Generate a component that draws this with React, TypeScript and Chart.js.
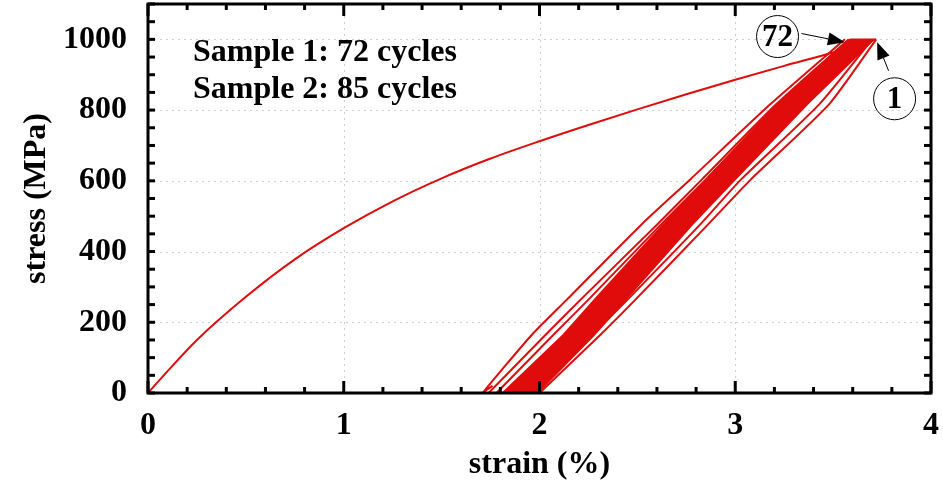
import React, { useEffect, useRef } from 'react';
import { Chart, registerables } from 'chart.js';

Chart.register(...registerables);

// Monotonic loading curve (first cycle)
const loadStrain = [0, 0.1, 0.25, 0.5, 0.75, 1.0, 1.25, 1.5, 1.75, 2.0, 2.25, 2.5, 2.75, 3.0, 3.25, 3.5, 3.72];
const loadStress = [0, 62, 150, 272, 378, 466, 542, 607, 663, 712, 758, 802, 845, 886, 925, 963, 1000];

// Cycle 1: unloading and reloading branches
const firstUnloadStrain = [3.72, 3.48, 3.08, 2.86, 2.49, 2.31, 2.00];
const firstUnloadStress = [1000, 817, 604, 476, 264, 164, 0];
const firstReloadStrain = [1.97, 2.27, 2.45, 2.82, 3.03, 3.43, 3.70];
const firstReloadStress = [0, 164, 264, 476, 604, 817, 1000];

// Dense band of intermediate cycles (outline: left edge up, right edge down)
const bandStrain = [1.81, 2.12, 2.28, 2.63, 2.85, 3.22, 3.59, 3.71, 3.37, 3.00, 2.78, 2.44, 2.28, 1.99, 1.81];
const bandStress = [0, 164, 264, 476, 604, 817, 1000, 1000, 817, 604, 476, 264, 164, 0, 0];

// Late cycles on the left side
const lateReloadStrain = [1.74, 2.03, 2.21, 2.60, 2.83, 3.21, 3.58];
const lateReloadStress = [0, 164, 264, 476, 604, 817, 1000];
const lateUnloadStrain = [3.59, 3.22, 2.85, 2.62, 2.25, 2.07, 1.78];
const lateUnloadStress = [1000, 817, 604, 476, 264, 164, 0];
// Last cycle (72)
const lastStrain = [3.56, 3.18, 2.77, 2.52, 2.14, 1.96, 1.71, 1.76];
const lastStress = [1000, 817, 604, 476, 264, 164, 0, 20];

const xTickLabels = ['0', '1', '2', '3', '4'];
const yTickLabels = ['0', '200', '400', '600', '800', '1000'];
const xGrid = [1, 2, 3];
const yGrid = [200, 400, 600, 800, 1000];

const noteLines = ['Sample 1: 72 cycles', 'Sample 2: 85 cycles'];
const firstCycleLabel = '1';
const lastCycleLabel = '72';

const RED = '#e00b0b';
const FONT = '"Liberation Serif", "Times New Roman", serif';

const pts = (xs: number[], ys: number[]) => xs.map((x, i) => ({ x, y: ys[i] }));

const framePlugin = {
  id: 'frame',
  beforeDatasetsDraw(chart: any) {
    const { ctx, chartArea: a, scales } = chart;
    const xs = scales.x, ys = scales.y;
    ctx.save();
    ctx.strokeStyle = '#cfcfcf';
    ctx.lineWidth = 1;
    ctx.setLineDash([2, 4]);
    xGrid.forEach(v => {
      const p = Math.round(xs.getPixelForValue(v)) + 0.5;
      ctx.beginPath(); ctx.moveTo(p, a.top); ctx.lineTo(p, a.bottom); ctx.stroke();
    });
    yGrid.forEach(v => {
      const p = Math.round(ys.getPixelForValue(v)) + 0.5;
      ctx.beginPath(); ctx.moveTo(a.left, p); ctx.lineTo(a.right, p); ctx.stroke();
    });
    ctx.restore();
  },
  afterDatasetsDraw(chart: any) {
    const { ctx, chartArea: a, scales } = chart;
    const xs = scales.x, ys = scales.y;
    ctx.save();
    ctx.strokeStyle = '#000';
    ctx.lineWidth = 3;
    ctx.setLineDash([]);
    for (let i = 0; i <= 20; i++) {
      const v = i * 0.2;
      const p = xs.getPixelForValue(v);
      const len = i % 5 === 0 ? 12 : 6;
      ctx.beginPath(); ctx.moveTo(p, a.bottom); ctx.lineTo(p, a.bottom - len); ctx.stroke();
      ctx.beginPath(); ctx.moveTo(p, a.top); ctx.lineTo(p, a.top + len); ctx.stroke();
    }
    for (let i = 0; i <= 22; i++) {
      const v = i * 50;
      const p = ys.getPixelForValue(v);
      const len = 7;
      ctx.beginPath(); ctx.moveTo(a.left, p); ctx.lineTo(a.left + len, p); ctx.stroke();
      ctx.beginPath(); ctx.moveTo(a.right, p); ctx.lineTo(a.right - len, p); ctx.stroke();
    }
    ctx.strokeRect(a.left, a.top, a.right - a.left, a.bottom - a.top);
    ctx.restore();
  },
  afterDraw(chart: any) {
    const { ctx, chartArea: a, scales } = chart;
    const xs = scales.x, ys = scales.y;
    ctx.save();
    ctx.fillStyle = '#000';
    ctx.font = `bold 32px ${FONT}`;
    ctx.textBaseline = 'alphabetic';
    ctx.textAlign = 'left';
    ctx.fillText(noteLines[0], a.left + 45, a.top + 57);
    ctx.fillText(noteLines[1], a.left + 45, a.top + 94);

    const arrow = (x1: number, y1: number, x2: number, y2: number) => {
      const ang = Math.atan2(y2 - y1, x2 - x1);
      const hl = 17, hw = 6.5;
      ctx.strokeStyle = '#000';
      ctx.lineWidth = 1;
      ctx.beginPath();
      ctx.moveTo(x1, y1);
      ctx.lineTo(x2 - hl * Math.cos(ang), y2 - hl * Math.sin(ang));
      ctx.stroke();
      ctx.beginPath();
      ctx.moveTo(x2, y2);
      ctx.lineTo(x2 - hl * Math.cos(ang) + hw * Math.sin(ang), y2 - hl * Math.sin(ang) - hw * Math.cos(ang));
      ctx.lineTo(x2 - hl * Math.cos(ang) - hw * Math.sin(ang), y2 - hl * Math.sin(ang) + hw * Math.cos(ang));
      ctx.closePath();
      ctx.fill();
    };
    const circleLabel = (cx: number, cy: number, text: string) => {
      ctx.strokeStyle = '#000';
      ctx.lineWidth = 1;
      ctx.beginPath();
      ctx.arc(cx, cy, 21, 0, Math.PI * 2);
      ctx.stroke();
      ctx.font = `bold 31px ${FONT}`;
      ctx.textAlign = 'center';
      ctx.textBaseline = 'middle';
      ctx.fillText(text, cx, cy + 1);
    };
    const c72x = xs.getPixelForValue(3.216), c72y = ys.getPixelForValue(1008);
    circleLabel(c72x, c72y, lastCycleLabel);
    arrow(c72x + 24, c72y - 3, xs.getPixelForValue(3.56), ys.getPixelForValue(992));
    const c1x = xs.getPixelForValue(3.814), c1y = ys.getPixelForValue(832);
    circleLabel(c1x, c1y, firstCycleLabel);
    arrow(c1x - 6, c1y - 28, xs.getPixelForValue(3.725), ys.getPixelForValue(992));
    ctx.restore();
  },
};

export default function App() {
  const ref = useRef<HTMLCanvasElement>(null);
  useEffect(() => {
    if (!ref.current) return;
    Chart.defaults.font.family = FONT;
    const lineDs = (data: any[]) => ({
      data,
      borderColor: RED,
      borderWidth: 2,
      pointRadius: 0,
      fill: false,
      tension: 0.2,
    });
    const chart = new Chart(ref.current, {
      type: 'line',
      data: {
        datasets: [
          {
            data: pts(bandStrain, bandStress),
            borderColor: RED,
            backgroundColor: RED,
            borderWidth: 1.5,
            pointRadius: 0,
            fill: 'shape',
            tension: 0,
          } as any,
          lineDs(pts(firstUnloadStrain, firstUnloadStress)),
          lineDs(pts(firstReloadStrain, firstReloadStress)),
          lineDs(pts(lateReloadStrain, lateReloadStress)),
          lineDs(pts(lateUnloadStrain, lateUnloadStress)),
          lineDs(pts(lastStrain, lastStress)),
          { ...lineDs(pts(loadStrain, loadStress)), cubicInterpolationMode: 'monotone' },
        ],
      },
      options: {
        animation: false,
        responsive: false,
        parsing: false as any,
        layout: { padding: { top: 4, right: 12, left: 0, bottom: 0 } },
        plugins: { legend: { display: false }, tooltip: { enabled: false } },
        scales: {
          x: {
            type: 'linear',
            min: 0,
            max: 4,
            grid: { display: false, drawTicks: false },
            border: { display: false },
            ticks: {
              stepSize: 1,
              autoSkip: false,
              maxRotation: 0,
              color: '#000',
              padding: 14,
              font: { size: 32, weight: 'bold', family: FONT },
              callback: (v: any) => xTickLabels[Number(v)] ?? '',
            },
            title: {
              display: true,
              text: 'strain (%)',
              color: '#000',
              font: { size: 32, weight: 'bold', family: FONT },
              padding: { top: 0, bottom: 6 },
            },
            afterFit: (s: any) => { s.height = 97; s.paddingLeft = 0; s.paddingRight = 0; },
          },
          y: {
            type: 'linear',
            min: 0,
            max: 1100,
            grid: { display: false, drawTicks: false },
            border: { display: false },
            ticks: {
              stepSize: 100,
              autoSkip: false,
              color: '#000',
              padding: 21,
              font: { size: 32, weight: 'bold', family: FONT },
              callback: (v: any) => (yTickLabels.includes(String(v)) ? String(v) : ''),
            },
            title: {
              display: true,
              text: 'stress (MPa)',
              color: '#000',
              font: { size: 32, weight: 'bold', family: FONT },
              padding: { top: 18, bottom: 0 },
            },
            afterFit: (s: any) => { s.width = 148; s.paddingTop = 0; s.paddingBottom = 0; },
          },
        },
      } as any,
      plugins: [framePlugin],
    });
    return () => chart.destroy();
  }, []);
  return (
    <div style={{ position: 'absolute', left: 0, top: 0, width: 943, height: 490, background: '#fff' }}>
      <canvas ref={ref} width={943} height={490} style={{ display: 'block' }} />
    </div>
  );
}
